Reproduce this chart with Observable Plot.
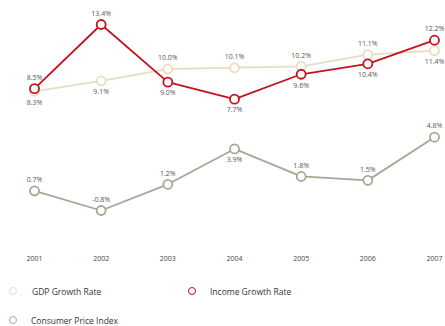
<!DOCTYPE html>
<html><head><meta charset="utf-8">
<script src="https://cdn.jsdelivr.net/npm/d3@7"></script>
<script src="https://cdn.jsdelivr.net/npm/@observablehq/plot@0.6"></script>
<style>
body{margin:0;background:#fff;font-family:"Open Sans",sans-serif;}
#legend{position:relative;width:445px;height:54px;font-size:8.5px;color:#333;}
.li{position:absolute;display:flex;align-items:center;height:10px;}
.li span.c{display:inline-block;width:8px;height:8px;border-radius:50%;border:1.7px solid;box-sizing:border-box;margin-right:14px;background:#fff;}
</style>
</head><body>
<div id="chart"></div>
<div id="legend"></div>
<script>
const years = [2001, 2002, 2003, 2004, 2005, 2006, 2007];
const gdp = [8.3, 9.1, 10.0, 10.1, 10.2, 11.1, 11.4];
const income = [8.5, 13.4, 9.0, 7.7, 9.6, 10.4, 12.2];
const cpi = [0.7, -0.8, 1.2, 3.9, 1.8, 1.5, 4.8];
const seriesNames = ["GDP Growth Rate", "Income Growth Rate", "Consumer Price Index"];
const seriesColors = ["#e9dcc3", "#c0141f", "#a8a796"];
// label side per point: true = below the marker
const gdpBelow = [true, true, false, false, false, false, true];
const incomeBelow = [false, false, true, true, true, true, false];
const cpiBelow = [false, false, false, true, false, false, false];

const values = [gdp, income, cpi];
const below = [gdpBelow, incomeBelow, cpiBelow];
const data = [];
values.forEach((arr, s) => arr.forEach((v, i) => data.push({
  series: seriesNames[s], year: years[i], value: v, below: below[s][i]
})));

const marks = [];
seriesNames.forEach((name, s) => {
  const d = data.filter(r => r.series === name);
  marks.push(Plot.line(d, {x: "year", y: "value", stroke: seriesColors[s], strokeWidth: 1.8}));
  marks.push(Plot.dot(d, {x: "year", y: "value", stroke: seriesColors[s], fill: "white", r: 4.5, strokeWidth: 1.8}));
});
seriesNames.forEach((name, s) => {
  const d = data.filter(r => r.series === name);
  marks.push(Plot.text(d.filter(r => !r.below), {x: "year", y: "value", text: r => r.value.toFixed(1) + "%", dy: -11, fill: "#555", fontSize: 7}));
  marks.push(Plot.text(d.filter(r => r.below), {x: "year", y: "value", text: r => r.value.toFixed(1) + "%", dy: 11, fill: "#555", fontSize: 7}));
});
marks.push(Plot.axisX({ticks: years, tickSize: 0, tickPadding: 46, tickFormat: d => String(d), fontSize: 7, color: "#444", label: null}));

const plot = Plot.plot({
  width: 445, height: 272,
  marginLeft: 34, marginRight: 11, marginTop: 24, marginBottom: 62,
  style: {fontFamily: "Open Sans, sans-serif", background: "white"},
  x: {domain: [2001, 2007]},
  y: {domain: [-0.8, 13.4], axis: null},
  marks
});
document.getElementById("chart").appendChild(plot);

const legendPos = [[9, 14, 15], [188, 14, 14], [9, 43, 14]];
const lg = document.getElementById("legend");
seriesNames.forEach((name, s) => {
  const el = document.createElement("div");
  el.className = "li";
  el.style.left = legendPos[s][0] + "px";
  el.style.top = legendPos[s][1] + "px";
  const c = document.createElement("span");
  c.className = "c";
  c.style.borderColor = seriesColors[s];
  c.style.marginRight = legendPos[s][2] + "px";
  el.appendChild(c);
  const t = document.createElement("span");
  t.textContent = name;
  el.appendChild(t);
  lg.appendChild(el);
});
</script>
</body></html>
